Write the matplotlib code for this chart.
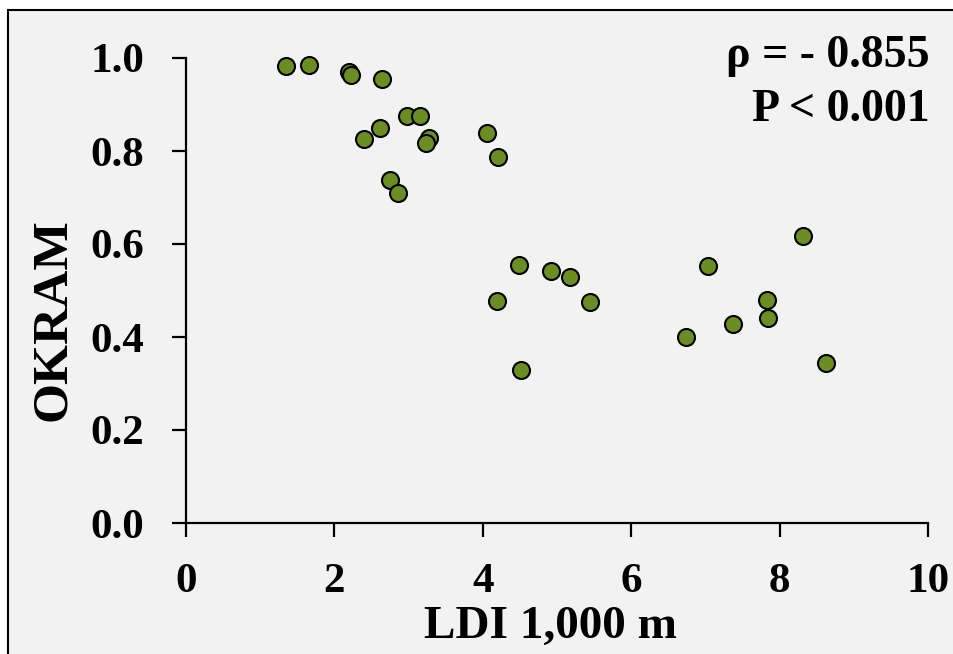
import matplotlib
matplotlib.use("Agg")
import matplotlib.pyplot as plt
from matplotlib.patches import Rectangle

ldi = [1.35, 1.66, 2.20, 2.23, 2.64, 2.98, 3.15, 2.61, 2.40, 3.27, 3.23, 4.06, 4.20,
       2.75, 2.86, 8.32, 4.49, 4.92, 5.18, 4.19, 5.45, 4.51, 7.03, 7.83, 7.84, 7.37,
       6.74, 8.63]
okram = [0.983, 0.986, 0.970, 0.963, 0.955, 0.875, 0.875, 0.849, 0.825, 0.829, 0.817,
         0.839, 0.788, 0.737, 0.710, 0.617, 0.555, 0.543, 0.528, 0.477, 0.475, 0.329,
         0.552, 0.479, 0.441, 0.428, 0.399, 0.345]
xticks = [0, 2, 4, 6, 8, 10]
yticks = [0.0, 0.2, 0.4, 0.6, 0.8, 1.0]
ytick_labels = ["0.0", "0.2", "0.4", "0.6", "0.8", "1.0"]
stats_lines = ["ρ = - 0.855", "P < 0.001"]

plt.rcParams['font.family'] = ['Liberation Serif', 'DejaVu Serif']
plt.rcParams['font.weight'] = 'bold'

W, H = 954, 654
fig = plt.figure(figsize=(W / 100, H / 100), dpi=100, facecolor='white')
# framed gray background
fig.patches.append(Rectangle((8 / W, -0.05), 1.1, (H - 10) / H + 0.05,
                             transform=fig.transFigure, facecolor='#f2f2f2',
                             edgecolor='black', linewidth=1.5, zorder=-5))

ax = fig.add_axes([186 / W, (H - 523) / H, (928 - 186) / W, (523 - 58) / H])
ax.set_zorder(2)
ax.set_facecolor('none')
ax.scatter(ldi, okram, s=150, c='#6B8E23', edgecolors='black', linewidths=1.5,
           zorder=3, clip_on=False)

ax.set_xlim(0, 10)
ax.set_ylim(0, 1.0)
ax.set_xticks(xticks)
ax.set_yticks(yticks)
ax.set_yticklabels(ytick_labels)
for s in ['top', 'right']:
    ax.spines[s].set_visible(False)
for s in ['left', 'bottom']:
    ax.spines[s].set_linewidth(1.6)
ax.tick_params(axis='both', direction='out', length=10, width=1.6, labelsize=31)
ax.tick_params(axis='x', pad=19)
ax.tick_params(axis='y', pad=20)
for lab in ax.get_xticklabels() + ax.get_yticklabels():
    lab.set_fontweight('bold')

ax.set_xlabel("LDI 1,000 m", fontsize=34, fontweight='bold')
ax.xaxis.set_label_coords((550 - 186) / 742, (523 - 606) / 465)
ax.set_ylabel("OKRAM", fontsize=37, fontweight='bold')
ax.yaxis.set_label_coords((76 - 186) / 742, (523 - 320) / 465)

fig.text(930 / W, 1 - 56 / H, stats_lines[0], ha='right', va='center',
         fontsize=33, fontweight='bold', zorder=5)
fig.text(930 / W, 1 - 110 / H, stats_lines[1], ha='right', va='center',
         fontsize=33, fontweight='bold', zorder=5)

fig.savefig("out.png", dpi=100, facecolor=fig.get_facecolor())
